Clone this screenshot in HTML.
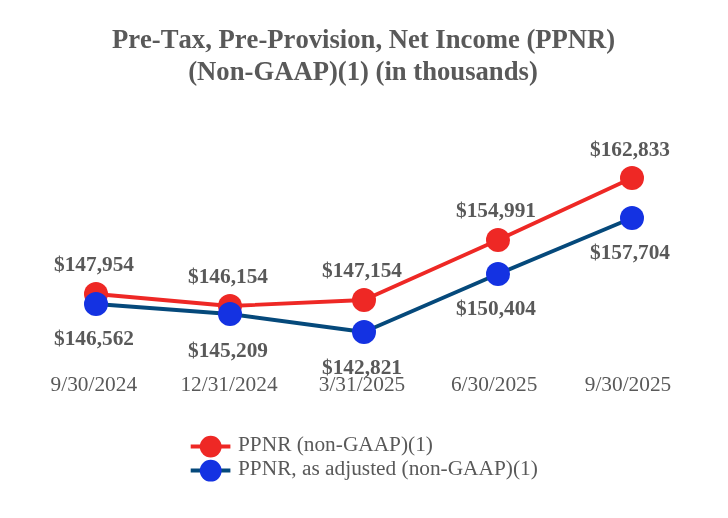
<!DOCTYPE html>
<html>
<head>
<meta charset="utf-8">
<title>PPNR</title>
<style>
html,body{margin:0;padding:0;background:#fff;}
body{width:728px;height:518px;overflow:hidden;}
svg{display:block;}
text{font-family:"Liberation Serif","Times New Roman",serif;fill:#595959;font-kerning:none;font-variant-ligatures:none;}
.t{font-size:26.67px;font-weight:bold;text-anchor:middle;}
.v{font-size:21.33px;font-weight:bold;text-anchor:middle;}
.x{font-size:21.33px;text-anchor:middle;}
.l{font-size:21.33px;}
</style>
</head>
<body>
<svg width="728" height="518" viewBox="0 0 728 518" xmlns="http://www.w3.org/2000/svg">
<rect width="728" height="518" fill="#ffffff"/>
<text class="t" x="363.6" y="48.2">Pre-Tax, Pre-Provision, Net Income (PPNR)</text>
<text class="t" x="363" y="80">(Non-GAAP)(1) (in thousands)</text>

<polyline fill="none" stroke="#EE2825" stroke-width="3.8" stroke-linejoin="round" points="96,294 230,306 364,300 498,240 632,178"/>
<g fill="#EE2825">
<circle cx="96" cy="294" r="12"/><circle cx="230" cy="306" r="12"/><circle cx="364" cy="300" r="12"/><circle cx="498" cy="240" r="12"/><circle cx="632" cy="178" r="12"/>
</g>
<polyline fill="none" stroke="#05497B" stroke-width="3.8" stroke-linejoin="round" points="96,304 230,314 364,332 498,274 632,218"/>
<g fill="#1432E2">
<circle cx="96" cy="304" r="12"/><circle cx="230" cy="314" r="12"/><circle cx="364" cy="332" r="12"/><circle cx="498" cy="274" r="12"/><circle cx="632" cy="218" r="12"/>
</g>

<text class="v" x="94" y="270.5">$147,954</text>
<text class="v" x="228" y="282.5">$146,154</text>
<text class="v" x="362" y="276.5">$147,154</text>
<text class="v" x="496" y="216.5">$154,991</text>
<text class="v" x="630" y="155.5">$162,833</text>

<text class="v" x="94" y="344.5">$146,562</text>
<text class="v" x="228" y="356.5">$145,209</text>
<text class="v" x="362" y="373.5">$142,821</text>
<text class="v" x="496" y="314.5">$150,404</text>
<text class="v" x="630" y="258.5">$157,704</text>

<text class="x" x="93.8" y="390.7">9/30/2024</text>
<text class="x" x="229" y="390.7">12/31/2024</text>
<text class="x" x="362" y="390.7">3/31/2025</text>
<text class="x" x="494.2" y="390.7">6/30/2025</text>
<text class="x" x="628" y="390.7">9/30/2025</text>

<line x1="190.7" y1="446.5" x2="230.4" y2="446.5" stroke="#EE2825" stroke-width="4"/>
<circle cx="210.7" cy="446.6" r="10.9" fill="#EE2825"/>
<line x1="190.7" y1="470.5" x2="230.4" y2="470.5" stroke="#05497B" stroke-width="4"/>
<circle cx="210.7" cy="470.7" r="10.9" fill="#1432E2"/>
<text class="l" x="238" y="451">PPNR (non-GAAP)(1)</text>
<text class="l" x="238" y="475.3">PPNR, as adjusted (non-GAAP)(1)</text>
</svg>
</body>
</html>
